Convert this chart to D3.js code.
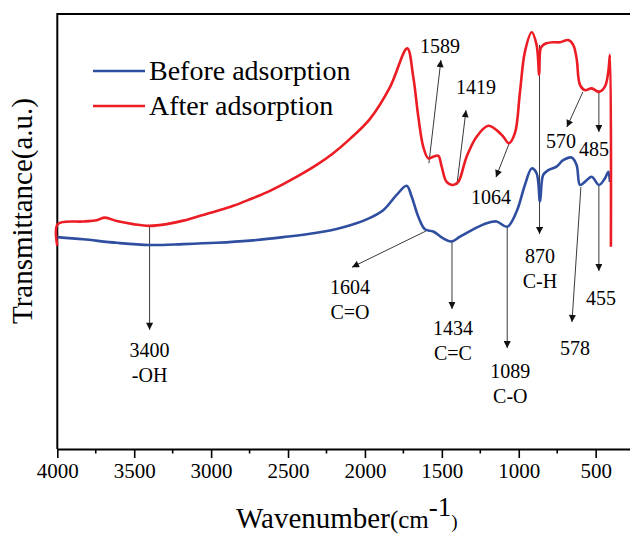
<!DOCTYPE html>
<html><head><meta charset="utf-8">
<script src="https://cdn.jsdelivr.net/npm/d3@7"></script>
<style>body{margin:0;background:#fff}svg{display:block}</style>
</head><body>
<svg id="c" width="630" height="534"></svg>
<script>
// ---- data (wavenumber in cm-1, transmittance in arbitrary units) ----
const xTickValues = [4000, 3500, 3000, 2500, 2000, 1500, 1000, 500];
const xMinorTicks = [3750, 3250, 2750, 2250, 1750, 1250, 750];
const seriesNames = ["Before adsorption", "After adsorption"];

const beforeWn = [4000,3831,3614,3400,3181,2964,2747,2531,2314,2141,1989,1881,1794,1729,1696,1653,1610,1556,1491,1436,1382,1296,1209,1144,1075,1014,960,916,884,862,841,808,754,711,656,624,602,570,526,479,440,418,407];
const beforeT  = [48.7,48.2,47.4,46.9,47.1,47.4,47.9,48.7,49.7,51.0,52.8,54.9,58.4,60.5,58.0,53.4,50.5,50.0,48.4,47.7,48.8,50.5,51.9,52.3,51.1,54.6,60.7,64.5,63.4,56.9,63.0,64.1,64.9,66.4,67.0,65.3,60.7,61.4,62.6,60.7,62.2,63.7,61.4];

const afterWn = [4000,3997,3831,3744,3690,3614,3506,3400,3289,3181,3072,2964,2856,2747,2639,2531,2422,2314,2206,2097,1967,1837,1725,1686,1653,1621,1588,1556,1523,1501,1469,1426,1393,1339,1274,1198,1144,1101,1064,1025,992,960,916,884,867,858,841,819,776,732,678,646,624,602,570,526,479,440,418,407,401];
const afterT  = [46.7,51.7,52.3,52.6,53.2,52.4,51.7,51.3,51.7,52.5,53.6,54.7,55.9,57.4,59.0,60.9,63.0,65.3,68.0,71.3,75.9,83.2,92.1,85.6,76.4,69.5,66.8,67.2,67.4,64.9,61.4,60.7,61.4,67.2,71.8,74.3,73.3,71.8,70.3,72.6,82.1,91.3,95.8,92.9,86.0,92.1,92.9,93.3,93.5,93.5,94.0,92.9,89.8,83.7,82.5,82.9,82.1,83.3,86.7,90.6,46.5];

// peak annotations: arrow start / end and label anchor in data units
const annFromWn = [3400,1604,1434,1075,865,596,479,583,479,1584,1402,1064];
const annFromT  = [51.3,50.1,47.6,51.0,92.9,60.2,60.5,82.1,82.5,65.7,60.7,70.1];
const annToWn   = [3400,2084,1434,1075,865,654,479,687,479,1506,1343,1148];
const annToT    = [27.4,41.8,32.2,23.2,49.4,29.2,40.9,74.0,72.9,89.4,77.9,62.5];
const annLabWn  = [3400,2097,1428,1055,862,635,466,726,511,1512,1278,1181];
const annLabT   = [22.8,37.2,27.8,17.9,44.4,23.2,34.7,70.8,69.0,92.6,83.2,57.9];
const annLabel1 = ["3400","1604","1434","1089","870","578","455","570","485","1589","1419","1064"];
const annLabel2 = ["-OH","C=O","C=C","C-O","C-H","","","","","","",""];

// ---- drawing ----
const svg = d3.select("#c");
const FONT = "'Liberation Serif','Times New Roman',serif";
const x = d3.scaleLinear().domain([4000, 280]).range([57.3, 629.5]);
const y = d3.scaleLinear().domain([0, 100]).range([449, 14]);
const colors = ["#2f4ea0", "#ec1c24"];

svg.append("defs").append("marker")
  .attr("id", "arr").attr("viewBox", "0 0 10 10").attr("refX", 10).attr("refY", 5)
  .attr("markerWidth", 9).attr("markerHeight", 7).attr("markerUnits", "userSpaceOnUse")
  .attr("orient", "auto")
  .append("path").attr("d", "M0,0 L10,5 L0,10 Z").attr("fill", "#111");

// frame
svg.append("line").attr("x1", x(4000)).attr("x2", 630).attr("y1", y(100)).attr("y2", y(100))
  .attr("stroke", "#000").attr("stroke-width", 2);
svg.append("line").attr("x1", x(4000)).attr("x2", x(4000)).attr("y1", y(100) - 1).attr("y2", y(0))
  .attr("stroke", "#000").attr("stroke-width", 2);

// x axis
const gx = svg.append("g").attr("transform", `translate(0,${y(0)})`);
gx.call(d3.axisBottom(x).tickValues(xTickValues).tickFormat(d3.format("d"))
  .tickSize(9).tickPadding(5).tickSizeOuter(0));
gx.attr("font-family", FONT);
gx.select(".domain").attr("stroke-width", 2);
gx.selectAll(".tick line").attr("stroke-width", 1.6);
gx.selectAll(".tick text").attr("font-family", FONT).attr("font-size", 21).attr("fill", "#000");
gx.selectAll(".minor").data(xMinorTicks).enter().append("line")
  .attr("x1", d => x(d)).attr("x2", d => x(d)).attr("y1", 0).attr("y2", 4.5)
  .attr("stroke", "#000").attr("stroke-width", 1.6);

// axis titles
const xt = svg.append("text").attr("x", 236).attr("y", 528).attr("font-family", FONT).attr("fill", "#000");
xt.append("tspan").attr("font-family", FONT).attr("font-size", 29).text("Wavenumber");
xt.append("tspan").attr("font-family", FONT).attr("font-size", 25).text("(cm");
xt.append("tspan").attr("font-family", FONT).attr("font-size", 27).attr("dy", -12).text("-1");
xt.append("tspan").attr("font-family", FONT).attr("font-size", 19).attr("dy", 12).text(")");

svg.append("text").attr("transform", "translate(32,211) rotate(-90)")
  .attr("text-anchor", "middle").attr("font-family", FONT).attr("font-size", 29)
  .attr("fill", "#000").text("Transmittance(a.u.)");

// annotations
const anns = annLabel1.map((l, i) => ({i, l}));
svg.selectAll(".ann").data(anns).enter().append("line")
  .attr("x1", d => x(annFromWn[d.i])).attr("y1", d => y(annFromT[d.i]))
  .attr("x2", d => x(annToWn[d.i])).attr("y2", d => y(annToT[d.i]))
  .attr("stroke", "#222").attr("stroke-width", 0.9).attr("marker-end", "url(#arr)");

// spectra
const line = d3.line().x(d => x(d[0])).y(d => y(d[1])).curve(d3.curveCatmullRom.alpha(0.5));
const series = [d3.zip(beforeWn, beforeT), d3.zip(afterWn, afterT)];
svg.selectAll(".spec").data(series).enter().append("path")
  .attr("d", line).attr("fill", "none")
  .attr("stroke", (d, i) => colors[i]).attr("stroke-width", 2.6).attr("stroke-linejoin", "round");

// annotation labels
anns.forEach(d => {
  svg.append("text").attr("x", x(annLabWn[d.i])).attr("y", y(annLabT[d.i]))
    .attr("text-anchor", "middle").attr("dominant-baseline", "central")
    .attr("font-family", FONT).attr("font-size", 20).attr("fill", "#000").text(d.l);
  if (annLabel2[d.i]) {
    svg.append("text").attr("x", x(annLabWn[d.i])).attr("y", y(annLabT[d.i]) + 25)
      .attr("text-anchor", "middle").attr("dominant-baseline", "central")
      .attr("font-family", FONT).attr("font-size", 20).attr("fill", "#000").text(annLabel2[d.i]);
  }
});

// legend
const lg = svg.append("g");
seriesNames.forEach((n, i) => {
  const ly = 71 + i * 35;
  lg.append("line").attr("x1", 93).attr("x2", 145).attr("y1", ly).attr("y2", ly)
    .attr("stroke", colors[i]).attr("stroke-width", 2.6);
  lg.append("text").attr("x", 149).attr("y", ly + 9).attr("font-family", FONT)
    .attr("font-size", 28).attr("fill", "#000").text(n);
});
</script>
</body></html>
